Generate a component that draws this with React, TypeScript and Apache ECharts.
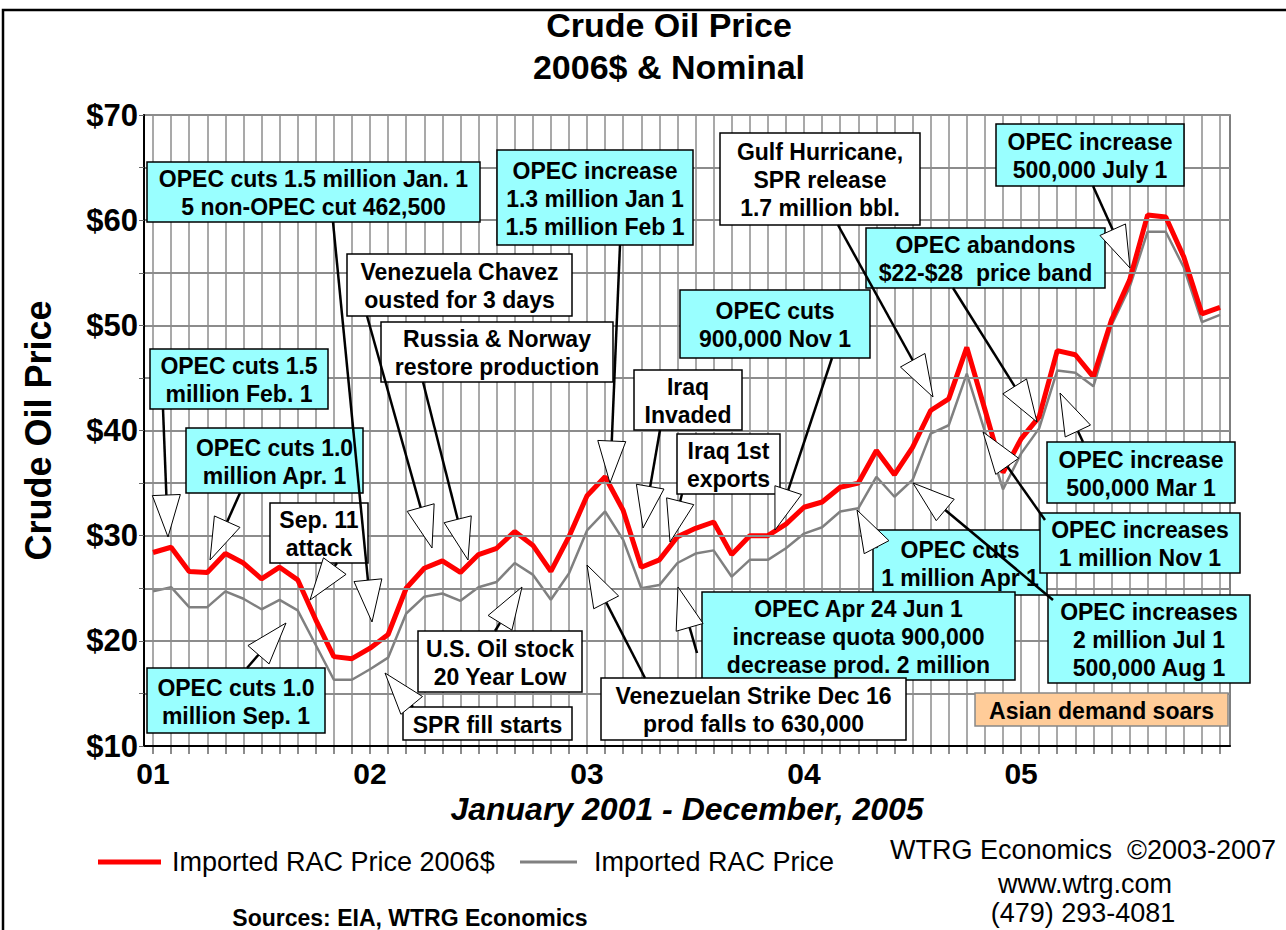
import React, { useEffect, useRef } from 'react';
import * as echarts from 'echarts';

// ---------- data ----------
const yearLabels = ['01', '02', '03', '04', '05'];
const seriesReal = 'Imported RAC Price 2006$';
const seriesNominal = 'Imported RAC Price';

// Monthly, January 2001 - December 2005 (2006 dollars)
const price2006 = [
  28.4, 28.9, 26.6, 26.5, 28.3, 27.4, 25.9, 27.0, 25.8, 22.0, 18.5, 18.3,
  19.3, 20.6, 25.0, 26.9, 27.6, 26.5, 28.2, 28.8, 30.4, 29.1, 26.6, 29.9,
  33.8, 35.6, 32.4, 27.0, 27.7, 29.9, 30.7, 31.3, 28.2, 30.0, 30.0, 31.1,
  32.7, 33.2, 34.6, 35.0, 38.1, 35.8, 38.4, 41.9, 43.0, 47.9, 42.0, 36.0,
  39.2, 41.3, 47.6, 47.2, 45.1, 50.5, 54.3, 60.5, 60.3, 56.5, 51.1, 51.7,
];
// Monthly nominal
const priceNominal = [
  24.7, 25.1, 23.2, 23.2, 24.7, 24.0, 23.0, 23.9, 22.9, 19.6, 16.3, 16.3,
  17.3, 18.4, 22.6, 24.2, 24.5, 23.8, 25.1, 25.6, 27.4, 26.3, 23.9, 26.4,
  30.5, 32.3, 29.6, 25.0, 25.3, 27.4, 28.3, 28.6, 26.1, 27.7, 27.7, 28.8,
  30.2, 30.8, 32.3, 32.6, 35.6, 33.7, 35.3, 39.7, 40.5, 45.4, 39.9, 34.4,
  37.8, 40.2, 45.7, 45.5, 44.2, 50.0, 53.6, 58.9, 58.9, 55.5, 50.3, 51.0,
];

const yMin = 10;
const yMax = 70;

// ---------- annotations (layout) ----------
const FONT = '"Liberation Sans", Arial, Helvetica, sans-serif';
const CYAN = '#99ffff';
const WHITE = '#ffffff';
const ORANGE = '#ffcc99';

type Note = {
  text: string;
  box: [number, number, number, number];
  fill: string;
  arrow?: [number, number, number, number];
};

const notes: Note[] = [
  { text: 'OPEC cuts 1.5 million Jan. 1\n5 non-OPEC cut 462,500', box: [147, 162, 333, 60], fill: CYAN, arrow: [333, 222, 372, 622] },
  { text: 'OPEC cuts 1.5\nmillion Feb. 1', box: [150, 349, 178, 60], fill: CYAN, arrow: [163, 409, 168, 537] },
  { text: 'OPEC cuts 1.0\nmillion Apr. 1', box: [186, 428, 177, 65], fill: CYAN, arrow: [240, 493, 210, 560] },
  { text: 'Sep. 11\nattack', box: [270, 503, 98, 60], fill: WHITE, arrow: [337, 563, 310, 600] },
  { text: 'OPEC cuts 1.0\nmillion Sep. 1', box: [147, 668, 178, 65], fill: CYAN, arrow: [247, 668, 286, 623] },
  { text: 'Venezuela Chavez\nousted for 3 days', box: [347, 254, 225, 62], fill: WHITE, arrow: [367, 316, 432, 548] },
  { text: 'Russia & Norway\nrestore production', box: [381, 322, 232, 60], fill: WHITE, arrow: [423, 382, 468, 560] },
  { text: 'OPEC increase\n1.3 million Jan 1\n1.5 million Feb 1', box: [497, 150, 196, 95], fill: CYAN, arrow: [620, 245, 610, 483] },
  { text: 'U.S. Oil stock\n20 Year Low', box: [418, 631, 164, 61], fill: WHITE, arrow: [495, 631, 522, 587] },
  { text: 'SPR fill starts', box: [403, 707, 169, 33], fill: WHITE, arrow: [413, 707, 385, 673] },
  { text: 'Iraq\nInvaded', box: [634, 370, 108, 60], fill: WHITE, arrow: [660, 430, 643, 528] },
  { text: 'Iraq 1st\nexports', box: [677, 434, 103, 60], fill: WHITE, arrow: [682, 494, 670, 542] },
  { text: 'OPEC cuts\n900,000 Nov 1', box: [680, 290, 190, 68], fill: CYAN, arrow: [832, 358, 775, 530] },
  { text: 'Gulf Hurricane,\nSPR release\n1.7 million bbl.', box: [720, 133, 200, 92], fill: WHITE, arrow: [838, 225, 933, 397] },
  { text: 'OPEC abandons\n$22-$28  price band', box: [866, 228, 239, 60], fill: CYAN, arrow: [953, 288, 1037, 422] },
  { text: 'OPEC increase\n500,000 July 1', box: [996, 124, 188, 62], fill: CYAN, arrow: [1093, 186, 1130, 268] },
  { text: 'OPEC increase\n500,000 Mar 1', box: [1047, 442, 188, 61], fill: CYAN, arrow: [1083, 442, 1060, 393] },
  { text: 'OPEC cuts\n1 million Apr 1', box: [873, 530, 174, 65], fill: CYAN, arrow: [877, 548, 857, 510] },
  { text: 'OPEC increases\n1 million Nov 1', box: [1040, 513, 200, 60], fill: CYAN, arrow: [1045, 520, 983, 432] },
  { text: 'OPEC Apr 24 Jun 1\nincrease quota 900,000\ndecrease prod. 2 million', box: [702, 592, 313, 88], fill: CYAN, arrow: [697, 653, 678, 587] },
  { text: 'OPEC increases\n2 million Jul 1\n500,000 Aug 1', box: [1048, 595, 202, 88], fill: CYAN, arrow: [1053, 600, 913, 483] },
  { text: 'Venezuelan Strike Dec 16\nprod falls to 630,000', box: [601, 678, 305, 62], fill: WHITE, arrow: [645, 678, 587, 565] },
  { text: 'Asian demand soars', box: [975, 693, 253, 33], fill: ORANGE },
];

function buildGraphics() {
  const els: any[] = [];
  // outer frame
  els.push({
    type: 'rect', z: -10, silent: true,
    shape: { x: 3, y: 10, width: 1400, height: 1000 },
    style: { fill: 'none', stroke: '#000', lineWidth: 2.5 },
  });
  notes.forEach((n) => {
    const [x, y, w, h] = n.box;
    els.push({
      type: 'rect', z: 20,
      shape: { x, y, width: w, height: h },
      style: { fill: n.fill, stroke: n.fill === ORANGE ? '#888' : '#000', lineWidth: 1.5 },
    });
    els.push({
      type: 'text', z: 21,
      x: x + w / 2, y: y + h / 2 + 1,
      style: {
        text: n.text, fill: '#000', align: 'center', verticalAlign: 'middle',
        fontSize: 23, fontWeight: 'bold', fontFamily: FONT, lineHeight: 28,
      },
    });
  });
  notes.forEach((n) => {
    if (!n.arrow) return;
    const [x1, y1, x2, y2] = n.arrow;
    const dx = x2 - x1, dy = y2 - y1;
    const L = Math.sqrt(dx * dx + dy * dy);
    const ux = dx / L, uy = dy / L;
    const len = 42, half = 14;
    const bx = x2 - ux * len, by = y2 - uy * len;
    const nx = -uy, ny = ux;
    els.push({
      type: 'line', z: 22,
      shape: { x1, y1, x2: bx, y2: by },
      style: { stroke: '#000', lineWidth: 2.5 },
    });
    els.push({
      type: 'polygon', z: 23,
      shape: { points: [[x2, y2], [bx + nx * half, by + ny * half], [bx - nx * half, by - ny * half]] },
      style: { fill: '#fff', stroke: '#000', lineWidth: 1 },
    });
  });
  // footer texts
  const footer = [
    { t: 'WTRG Economics  \u00a92003-2007', x: 1083, y: 850, bold: false, size: 27 },
    { t: 'www.wtrg.com', x: 1085, y: 884, bold: false, size: 27 },
    { t: '(479) 293-4081', x: 1083, y: 913, bold: false, size: 27 },
    { t: 'Sources: EIA, WTRG Economics', x: 410, y: 918, bold: true, size: 23 },
  ];
  footer.forEach((f) => {
    els.push({
      type: 'text', z: 5, x: f.x, y: f.y,
      style: {
        text: f.t, fill: '#000', align: 'center', verticalAlign: 'middle',
        fontSize: f.size, fontWeight: f.bold ? 'bold' : 'normal', fontFamily: FONT,
      },
    });
  });
  return els;
}

export default function App() {
  const ref = useRef<HTMLDivElement>(null);
  useEffect(() => {
    if (!ref.current) return;
    const chart = echarts.init(ref.current, undefined, { renderer: 'svg' });
    const gridLine = '#8c8c8c';
    chart.setOption({
      animation: false,
      backgroundColor: '#ffffff',
      textStyle: { fontFamily: FONT },
      title: {
        text: 'Crude Oil Price\n2006$ & Nominal',
        left: 669, textAlign: 'center', top: 4, padding: 0,
        textStyle: { fontSize: 34, fontWeight: 'bold', color: '#000', lineHeight: 42, fontFamily: FONT },
      },
      legend: [
        {
          data: [seriesReal], left: 93, top: 843, icon: 'rect', itemWidth: 63, itemHeight: 5,
          textStyle: { fontSize: 27, color: '#000', fontFamily: FONT, lineHeight: 28, padding: [0, 0, 0, 6] },
        },
        {
          data: [seriesNominal], left: 515, top: 843, icon: 'rect', itemWidth: 57, itemHeight: 3,
          textStyle: { fontSize: 27, color: '#000', fontFamily: FONT, lineHeight: 28, padding: [0, 0, 0, 12] },
        },
      ],
      grid: [
        { left: 144, right: 56, top: 115, bottom: 184, show: true, backgroundColor: '#fff', borderColor: '#555', borderWidth: 1.5 },
        { left: 153, right: 66, top: 115, bottom: 184, show: false },
      ],
      xAxis: [
        {
          gridIndex: 0, type: 'value', min: 0, max: 1,
          axisLine: { show: true, lineStyle: { color: '#000', width: 2 } },
          axisTick: { show: false }, axisLabel: { show: false }, splitLine: { show: false },
          name: 'January 2001 - December, 2005', nameLocation: 'middle', nameGap: 47,
          nameTextStyle: { fontSize: 32, fontWeight: 'bold', fontStyle: 'italic', color: '#000', fontFamily: FONT },
          z: 5,
        },
        {
          gridIndex: 1, type: 'value', min: 0, max: 59, interval: 1,
          axisLine: { show: false },
          axisTick: { show: true, length: 8, lineStyle: { color: '#666', width: 1.5 } },
          axisLabel: {
            formatter: (v: number) => (v % 12 === 0 ? yearLabels[v / 12] : ''),
            fontSize: 30, fontWeight: 'bold', color: '#000', margin: 12, fontFamily: FONT,
          },
          splitLine: { show: true, lineStyle: { color: gridLine, width: 1.5 } },
        },
      ],
      yAxis: [
        {
          gridIndex: 0, type: 'value', min: yMin, max: yMax, interval: 5,
          axisLine: { show: true, lineStyle: { color: '#000', width: 2 } },
          axisTick: { show: true, length: 5, lineStyle: { color: '#666' } },
          axisLabel: {
            formatter: (v: number) => (v % 10 === 0 ? '$' + v : ''),
            fontSize: 31, fontWeight: 'bold', color: '#000', margin: 6, fontFamily: FONT,
          },
          splitLine: { show: true, lineStyle: { color: gridLine, width: 2 } },
          name: 'Crude Oil Price', nameLocation: 'middle', nameGap: 88, nameRotate: 90,
          nameTextStyle: { fontSize: 36, fontWeight: 'bold', color: '#000', fontFamily: FONT },
          z: 5,
        },
        { gridIndex: 1, type: 'value', min: yMin, max: yMax, show: false, splitLine: { show: false } },
      ],
      series: [
        {
          name: seriesNominal, type: 'line', xAxisIndex: 1, yAxisIndex: 1,
          data: priceNominal.map((v, i) => [i, v]),
          symbol: 'none', lineStyle: { color: '#808080', width: 2.5 }, itemStyle: { color: '#808080' },
          z: 3,
        },
        {
          name: seriesReal, type: 'line', xAxisIndex: 1, yAxisIndex: 1,
          data: price2006.map((v, i) => [i, v]),
          symbol: 'none', lineStyle: { color: '#ff0000', width: 5 }, itemStyle: { color: '#ff0000' },
          z: 4,
        },
      ],
      graphic: { elements: buildGraphics() },
    });
    return () => chart.dispose();
  }, []);
  return (
    <div
      ref={ref}
      style={{ position: 'fixed', left: 0, top: 0, width: 1286, height: 930, background: '#fff' }}
    />
  );
}
